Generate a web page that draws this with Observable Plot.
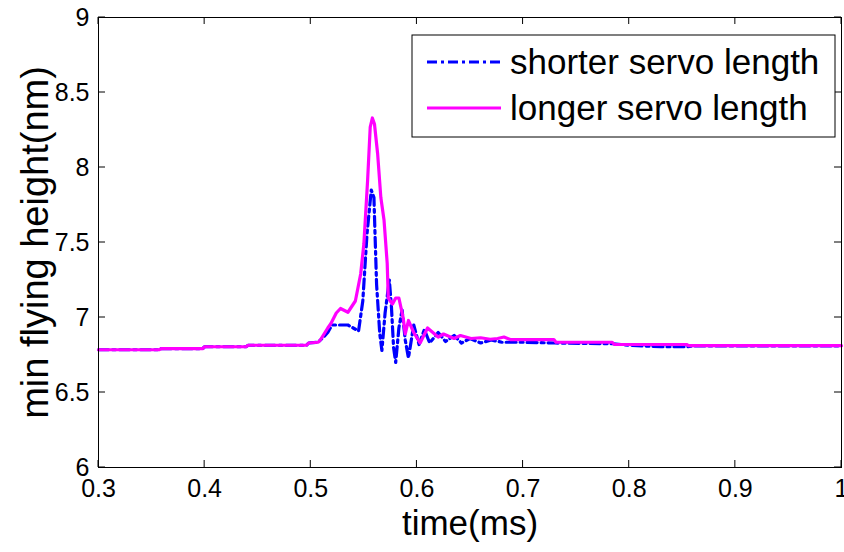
<!DOCTYPE html>
<html><head><meta charset="utf-8">
<script src="https://cdn.jsdelivr.net/npm/d3@7"></script>
<script src="https://cdn.jsdelivr.net/npm/@observablehq/plot@0.6"></script>
<style>
body{margin:0;background:#fff}
#chart{position:relative;width:844px;height:552px}
</style>
</head><body><div id="chart"></div>
<script>
// ---- data ----
const seriesNames = ["shorter servo length", "longer servo length"];
const xTicks = [0.3, 0.4, 0.5, 0.6, 0.7, 0.8, 0.9, 1];
const yTicks = [6, 6.5, 7, 7.5, 8, 8.5, 9];

const shortTime = [0.3,0.357,0.359,0.398,0.40,0.439,0.441,0.496,0.498,0.507,0.512,0.516,0.52,0.528,0.535,0.54,0.545,0.549,0.553,0.557,0.5595,0.5605,0.562,0.565,0.567,0.57,0.574,0.576,0.578,0.58,0.583,0.586,0.589,0.592,0.597,0.602,0.607,0.612,0.62,0.627,0.635,0.642,0.65,0.66,0.67,0.68,0.70,0.73,0.785,0.80,0.83,0.855,0.86,1.0];
const shortValue = [6.785,6.785,6.792,6.792,6.805,6.805,6.815,6.815,6.83,6.835,6.87,6.9,6.95,6.95,6.95,6.93,6.91,7.11,7.56,7.85,7.8,7.56,7.22,6.89,6.78,7.03,7.25,7.07,6.8,6.7,6.93,7.05,6.85,6.73,6.95,6.82,6.92,6.83,6.9,6.84,6.88,6.83,6.86,6.83,6.85,6.835,6.835,6.83,6.825,6.815,6.805,6.805,6.81,6.81];

const longTime = [0.3,0.357,0.359,0.398,0.40,0.439,0.441,0.496,0.498,0.507,0.509,0.516,0.519,0.524,0.528,0.535,0.542,0.547,0.55,0.5535,0.556,0.558,0.56,0.563,0.566,0.569,0.572,0.573,0.577,0.58,0.583,0.587,0.589,0.592,0.597,0.603,0.61,0.62,0.625,0.635,0.641,0.651,0.66,0.669,0.676,0.682,0.688,0.729,0.731,0.784,0.786,0.854,0.856,1.0];
const longValue = [6.785,6.785,6.792,6.792,6.805,6.805,6.815,6.815,6.83,6.835,6.85,6.93,6.96,7.03,7.06,7.035,7.11,7.29,7.49,7.91,8.27,8.33,8.29,8.09,7.8,7.65,7.36,7.13,7.09,7.13,7.13,7.0,6.89,6.98,6.9,6.83,6.93,6.87,6.89,6.86,6.88,6.86,6.865,6.855,6.86,6.87,6.853,6.853,6.835,6.835,6.82,6.82,6.812,6.812];

const shortData = shortTime.map((t, i) => ({t, v: shortValue[i]}));
const longData = longTime.map((t, i) => ({t, v: longValue[i]}));

const BLUE = "#0000ff", MAGENTA = "#ff00ff";
const DASH = "10,4,3,4";
const FONT = "'Liberation Sans', Arial, Helvetica, sans-serif";

const plot = Plot.plot({
  width: 844, height: 552,
  marginLeft: 98, marginRight: 3, marginTop: 17, marginBottom: 85,
  style: {fontFamily: FONT, background: "#fff", color: "#000", overflow: "visible"},
  x: {domain: [0.3, 1]},
  y: {domain: [6, 9]},
  marks: [
    Plot.axisX(xTicks, {tickSize: 0, tickPadding: 12, fontSize: 25, label: null, tickFormat: d => String(d)}),
    Plot.axisY(yTicks, {tickSize: 0, tickPadding: 9, fontSize: 25, label: null, tickFormat: d => String(d)}),
    Plot.line(shortData, {x: "t", y: "v", stroke: BLUE, strokeWidth: 3.2, strokeDasharray: DASH, strokeLinejoin: "round"}),
    Plot.line(longData, {x: "t", y: "v", stroke: MAGENTA, strokeWidth: 3.2, strokeLinejoin: "round"}),
    Plot.frame({stroke: "#000", strokeWidth: 1}),
    Plot.text(["time(ms)"], {frameAnchor: "bottom", textAnchor: "middle", dy: 67, fontSize: 35, text: d => d, fill: "#000"}),
    Plot.text(["min flying height(nm)"], {frameAnchor: "left", textAnchor: "middle", dx: -63, rotate: -90, fontSize: 38, text: d => d, fill: "#000"})
  ]
});

document.getElementById("chart").appendChild(plot);

// inward ticks on all four sides (MATLAB box style), positioned through the plot's scales
const sx = plot.scale("x"), sy = plot.scale("y");
const svg = d3.select(plot);
const x0 = sx.apply(0.3), x1 = sx.apply(1), y0 = sy.apply(6), y1 = sy.apply(9);
const tl = 7;
const g = svg.append("g").attr("stroke", "#000").attr("stroke-width", 1);
xTicks.forEach(v => {
  const x = sx.apply(v);
  g.append("line").attr("x1", x).attr("x2", x).attr("y1", y0).attr("y2", y0 - tl);
  g.append("line").attr("x1", x).attr("x2", x).attr("y1", y1).attr("y2", y1 + tl);
});
yTicks.forEach(v => {
  const y = sy.apply(v);
  g.append("line").attr("x1", x0).attr("x2", x0 + tl).attr("y1", y).attr("y2", y);
  g.append("line").attr("x1", x1).attr("x2", x1 - tl).attr("y1", y).attr("y2", y);
});

// legend box
const lg = svg.append("g").attr("font-family", FONT);
lg.append("rect").attr("x", 412).attr("y", 35).attr("width", 423).attr("height", 102)
  .attr("fill", "#fff").attr("stroke", "#000").attr("stroke-width", 1);
const rows = [
  {name: seriesNames[0], color: BLUE, dash: DASH, y: 62},
  {name: seriesNames[1], color: MAGENTA, dash: null, y: 108}
];
rows.forEach(r => {
  lg.append("line").attr("x1", 427).attr("x2", 501).attr("y1", r.y).attr("y2", r.y)
    .attr("stroke", r.color).attr("stroke-width", 3).attr("stroke-dasharray", r.dash);
  lg.append("text").attr("x", 510).attr("y", r.y).attr("dy", "0.35em")
    .attr("text-anchor", "start")
    .attr("font-size", 35).attr("fill", "#000").text(r.name);
});
</script>
</body></html>
